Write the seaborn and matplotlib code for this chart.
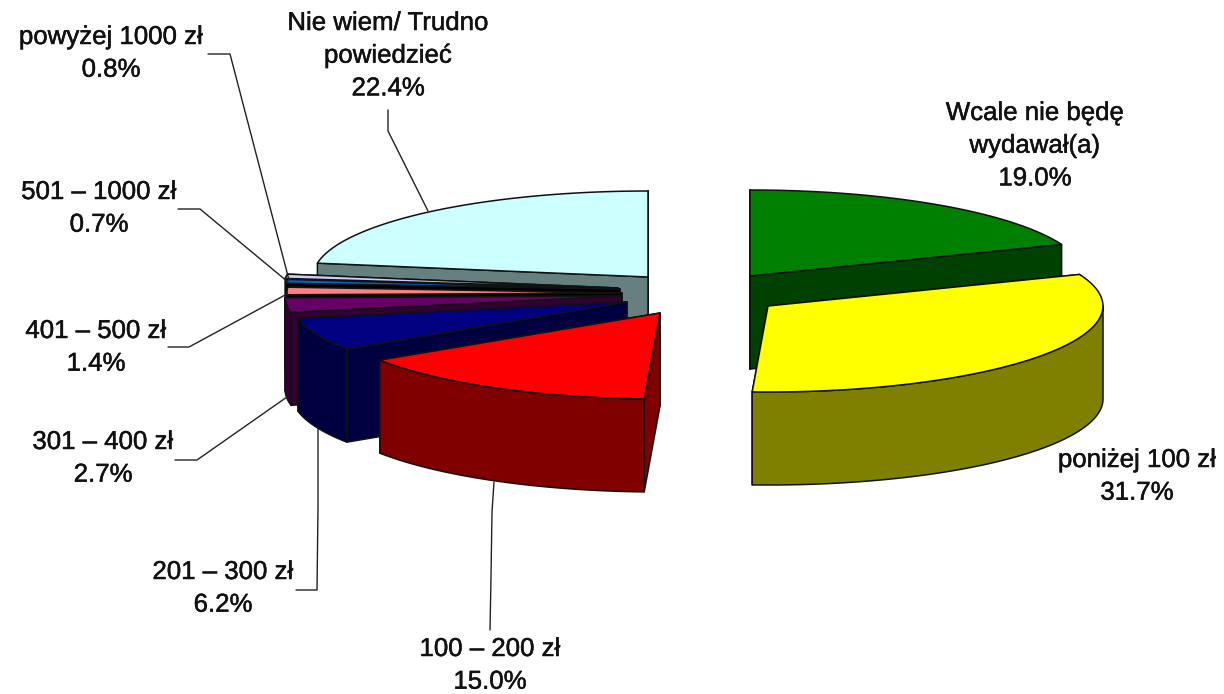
#!/usr/bin/env python3
"""Exploded 3D-looking pie of planned spending, drawn as projected polygons."""

import matplotlib

matplotlib.use("Agg")
import matplotlib.patheffects as pe
import matplotlib.pyplot as plt
import numpy as np
import seaborn as sns

labels = [
    "Wcale nie będę\nwydawał(a)",
    "poniżej 100 zł",
    "100 – 200 zł",
    "201 – 300 zł",
    "301 – 400 zł",
    "401 – 500 zł",
    "501 – 1000 zł",
    "powyżej 1000 zł",
    "Nie wiem/ Trudno\npowiedzieć",
]
values = [19.0, 31.7, 15.0, 6.2, 2.7, 1.4, 0.7, 0.8, 22.4]
top_colors = [
    "#008000", "#FFFF00", "#FF0000", "#000080", "#660066",
    "#FF8080", "#0066CC", "#CCCCFF", "#CCFFFF",
]
side_colors = [
    "#004000", "#808000", "#800000", "#000040", "#330033",
    "#000000", "#000000", "#000000", "#668080",
]

# layout in pixels, the axes run 1:1 with the output image
RX, RY, DEPTH = 335, 86, 93
apex = [
    (750, 276), (768, 306), (660, 313), (627, 302), (620, 296),
    (622, 293), (620, 289), (618, 288), (648, 277),
]
draw_order = [8, 7, 6, 5, 4, 3, 2, 0, 1]
label_pos = [
    (1035, 113), (1137, 460), (490, 649), (223, 572), (103, 442),
    (96, 331), (99, 192), (111, 37), (388, 23),
]
leaders = [
    [(208, 54), (230, 54), (289, 280)],
    [(388, 110), (388, 131), (428, 211)],
    [(178, 209), (200, 209), (288, 282)],
    [(168, 347), (189, 347), (287, 294)],
    [(175, 460), (197, 460), (287, 397)],
    [(296, 590), (317, 590), (318, 507), (318, 428)],
    [(494, 482), (492, 512), (491, 577), (490, 630)],
]


def rim(center, start, stop, n=60):
    theta = np.radians(np.linspace(start, stop, n))
    return np.column_stack(
        [center[0] + RX * np.sin(theta), center[1] - RY * np.cos(theta)]
    )


def draw_slice(ax, center, start, stop, top, side):
    style = {"edgecolor": "#111111", "linewidth": 1.1, "joinstyle": "round"}
    center = np.array(center, dtype=float)
    drop = np.array([0, DEPTH])
    # the cut face nearer the viewer goes on last
    ends = [rim(center, angle, angle, 1)[0] for angle in (start, stop)]
    for edge in sorted(ends, key=lambda p: p[1]):
        face = np.array([center, edge, edge + drop, center + drop])
        ax.fill(face[:, 0], face[:, 1], facecolor=side, **style)
    lo, hi = max(start, 90), min(stop, 270)
    if hi > lo:
        arc = rim(center, lo, hi)
        wall = np.vstack([arc, arc[::-1] + drop])
        ax.fill(wall[:, 0], wall[:, 1], facecolor=side, **style)
    cap = np.vstack([center, rim(center, start, stop)])
    ax.fill(cap[:, 0], cap[:, 1], facecolor=top, **style)


def main():
    sns.set_theme(style="white")
    plt.rcParams["font.family"] = ["Liberation Sans", "DejaVu Sans"]
    fig = plt.figure(figsize=(12.24, 6.94), dpi=100)
    ax = fig.add_axes([0, 0, 1, 1])
    ax.set_xlim(0, 1224)
    ax.set_ylim(694, 0)
    ax.axis("off")

    palette = sns.color_palette(top_colors)
    sides = sns.color_palette(side_colors)
    edges = np.concatenate([[0], np.cumsum(values)]) * 3.6 * 100 / sum(values)

    for i in draw_order:
        draw_slice(ax, apex[i], edges[i], edges[i + 1], palette[i], sides[i])

    for pts in leaders:
        xs, ys = zip(*pts)
        ax.plot(xs, ys, color="#222222", lw=1.0)

    for name, val, (x, y) in zip(labels, values, label_pos):
        lines = name.split("\n") + [f"{val:.1f}%"]
        for k, line in enumerate(lines):
            t = ax.text(x, y + k * 32.7, line, ha="center", va="center",
                        fontsize=18.6, color="#111111")
            t.set_path_effects([pe.withStroke(linewidth=0.35, foreground="#111111")])

    fig.savefig("out.png", dpi=100)


if __name__ == "__main__":
    main()
